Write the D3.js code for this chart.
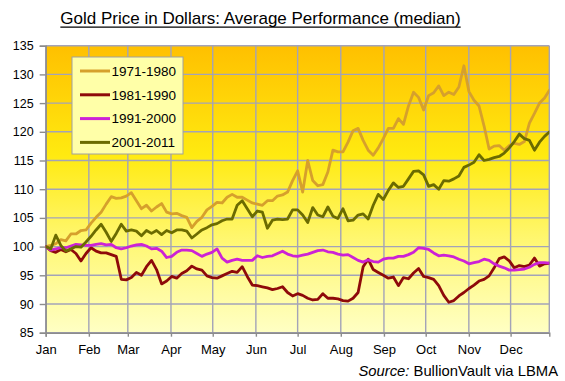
<!DOCTYPE html>
<html><head><meta charset="utf-8">
<script src="https://cdn.jsdelivr.net/npm/d3@7"></script>
<style>
html,body{margin:0;padding:0;background:#fff;}
svg{display:block;font-family:"Liberation Sans",Arial,sans-serif;}
</style></head>
<body>
<svg id="chart" width="565" height="381"></svg>
<script>
// ---- data (one sample about every 3.6 days) ----
const seriesNames = ["1971-1980","1981-1990","1991-2000","2001-2011"];
const seriesColors = ["#D6A02C","#8E0A0A","#CC22D6","#6B6B00"];
const sampleStepDays = 3.62;

const gold7180 = [100.0,100.2,100.5,101.2,101.0,102.2,102.2,102.8,102.9,104.1,105.1,106.0,107.4,108.7,108.4,108.5,108.8,109.4,108.0,106.6,107.2,106.2,106.9,107.5,106.0,
105.7,105.8,105.4,105.1,103.3,104.4,105.1,106.4,107.0,107.7,107.6,108.6,109.1,108.6,108.6,108.1,107.6,107.4,107.2,108.0,108.0,108.8,109.0,109.5,111.5,
113.2,109.5,115.0,111.5,110.6,110.8,113.0,116.8,116.5,116.5,118.2,120.2,120.6,118.5,116.8,115.9,117.2,118.8,120.6,120.6,122.3,121.3,124.5,126.9,126.0,
123.8,126.3,126.8,128.0,126.3,126.9,126.5,127.8,131.5,127.0,125.5,124.5,121.0,117.0,117.5,117.6,116.8,117.6,118.0,117.8,118.3,121.5,123.2,125.0,125.9,127.3];

const red8190 = [100.0,99.3,99.0,99.5,99.1,99.5,98.8,97.5,98.8,99.8,99.2,98.9,98.9,98.6,98.3,94.3,94.2,94.6,95.5,95.0,96.5,97.6,96.0,93.5,94.0,
94.8,94.5,95.3,95.8,96.6,96.1,95.9,94.9,94.6,94.5,94.9,95.3,95.7,95.5,96.5,94.8,93.3,93.2,93.0,92.8,92.5,92.7,93.0,92.0,91.4,
91.8,91.5,91.0,90.7,90.8,91.8,91.0,91.0,90.9,90.6,90.5,91.0,92.0,96.5,97.8,96.0,95.5,95.0,94.5,94.7,93.2,94.6,94.4,95.4,96.2,
94.8,94.6,94.3,93.2,91.5,90.3,90.6,91.4,92.0,92.7,93.3,94.0,94.3,94.9,96.3,97.9,98.2,97.5,96.3,96.7,96.5,96.8,98.0,96.6,97.0,97.1];

const magenta9100 = [100.0,99.4,99.6,99.8,99.8,100.1,100.4,100.3,100.2,100.2,100.4,100.5,100.3,100.4,99.8,99.6,99.8,100.1,100.3,100.4,100.1,99.6,99.7,99.2,98.1,
98.3,99.0,99.4,99.4,99.3,98.8,98.3,98.7,99.0,99.6,98.0,97.3,97.6,97.8,97.6,97.6,97.6,98.4,98.1,98.3,98.4,98.8,99.2,98.7,98.4,
98.3,98.5,98.7,99.0,99.3,99.4,99.1,99.0,98.7,98.5,98.6,98.1,97.6,97.3,97.7,97.4,97.3,97.8,98.0,98.0,98.3,98.3,98.6,99.0,99.8,
99.7,99.5,98.9,98.4,98.5,98.4,98.2,97.8,97.5,97.0,97.2,97.4,97.8,97.6,97.0,96.6,96.3,95.9,95.9,96.0,96.1,96.4,96.9,97.2,97.2,97.1];

const olive0111 = [100.0,99.6,102.0,100.2,99.2,99.6,100.0,99.9,100.8,101.8,102.9,103.9,102.5,100.9,102.3,103.9,102.7,102.9,102.7,101.9,102.8,102.3,102.8,102.1,102.8,
102.4,102.9,102.9,102.7,101.5,102.2,102.9,103.3,103.8,104.0,104.5,104.8,104.8,107.2,108.0,106.6,105.2,106.2,106.0,103.2,104.6,104.8,104.7,104.8,106.4,
106.4,105.5,104.2,106.8,105.5,105.2,106.9,105.3,104.9,106.6,104.5,104.6,105.5,105.7,104.8,107.2,109.1,108.2,109.8,111.1,110.3,110.5,111.8,113.1,113.2,
112.5,110.5,110.8,110.0,111.5,111.4,111.8,112.3,113.8,114.2,114.7,116.0,115.0,115.2,115.5,115.7,116.3,117.2,118.3,119.6,118.8,118.5,116.8,118.2,119.2,120.0];

const yTicks = [85,90,95,100,105,110,115,120,125,130,135];
const titleText = "Gold Price in Dollars: Average Performance (median)";

// ---- layout ----
const L = 45.7, R = 549.3, T = 45.7, B = 332.7;
const svg = d3.select("#chart");
const start = Date.UTC(2011,0,1);
const dayMs = 86400000;

const x = d3.scaleUtc().domain([new Date(start), new Date(start + 361.8*dayMs)]).range([L, R]);
const y = d3.scaleLinear().domain([85,135]).range([B, T]);

// gradient
const defs = svg.append("defs");
const grad = defs.append("linearGradient").attr("id","bg").attr("x1",0).attr("y1",0).attr("x2",0).attr("y2",1);
[[0,"#FFC000"],[0.38,"#FFEA10"],[0.7,"#FFF878"],[1,"#FFFFC4"]].forEach(([o,c])=>grad.append("stop").attr("offset",o).attr("stop-color",c));
defs.append("clipPath").attr("id","clip").append("rect").attr("x",L).attr("y",T-2).attr("width",R-L).attr("height",B-T+4);

svg.append("rect").attr("x",L).attr("y",T).attr("width",R-L).attr("height",B-T).attr("fill","url(#bg)");

// grid
const months = x.ticks(d3.utcMonth.every(1));
const grid = svg.append("g").attr("stroke","#A3A3B8").attr("stroke-width",1.4);
yTicks.forEach(v=>grid.append("line").attr("x1",L).attr("x2",R).attr("y1",y(v)).attr("y2",y(v)));
months.concat([x.domain()[1]]).forEach(d=>grid.append("line").attr("x1",x(d)).attr("x2",x(d)).attr("y1",T).attr("y2",B));

// axes
const yAxis = svg.append("g").attr("transform",`translate(${L},0)`)
  .call(d3.axisLeft(y).tickValues(yTicks).tickSize(6).tickPadding(6));
const xAxis = svg.append("g").attr("transform",`translate(0,${B})`)
  .call(d3.axisBottom(x).tickValues(months).tickFormat(d3.utcFormat("%b")).tickSize(4).tickPadding(8));
[yAxis,xAxis].forEach(g=>{
  g.select(".domain").attr("stroke","#8C8C8C").attr("stroke-width",1.4);
  g.selectAll(".tick line").attr("stroke","#8C8C8C").attr("stroke-width",1.4);
  g.selectAll("text").attr("fill","#000").style("font-family","'Liberation Sans',Arial,sans-serif").style("font-size","12.5px");
});
xAxis.selectAll("text").style("font-size","13px");

// lines
const allSeries = [gold7180, red8190, magenta9100, olive0111];
const line = d3.line().x((v,i)=>x(new Date(start + i*sampleStepDays*dayMs))).y(v=>y(v));
const lines = svg.append("g").attr("clip-path","url(#clip)");
allSeries.forEach((s,k)=>{
  lines.append("path").attr("d",line(s)).attr("fill","none").attr("stroke",seriesColors[k])
    .attr("stroke-width",2.8).attr("stroke-linejoin","round").attr("stroke-linecap","round");
});

// legend
const lg = svg.append("g").attr("transform","translate(72,57)");
lg.append("rect").attr("width",111).attr("height",97).attr("fill","#FFFFA8").attr("stroke","#A0A0A0").attr("stroke-width",1);
seriesNames.forEach((n,k)=>{
  const yy = 14 + k*23.8;
  lg.append("line").attr("x1",8).attr("x2",38).attr("y1",yy).attr("y2",yy).attr("stroke",seriesColors[k]).attr("stroke-width",3);
  lg.append("text").attr("x",39.5).attr("y",yy).attr("dy","0.36em").style("font-size","13.5px").text(n);
});

// title
const title = svg.append("text").attr("x",260.5).attr("y",24).attr("text-anchor","middle").style("font-size","17px").text(titleText);
const tw = title.node().getComputedTextLength();
svg.append("line").attr("x1",260.5-tw/2).attr("x2",260.5+tw/2).attr("y1",27.2).attr("y2",27.2).attr("stroke","#000").attr("stroke-width",1.2);

// source
const src = svg.append("text").attr("x",558).attr("y",376).attr("text-anchor","end").style("font-size","14.8px");
src.append("tspan").style("font-style","italic").text("Source:");
src.append("tspan").text(" BullionVault via LBMA");
</script>
</body></html>
